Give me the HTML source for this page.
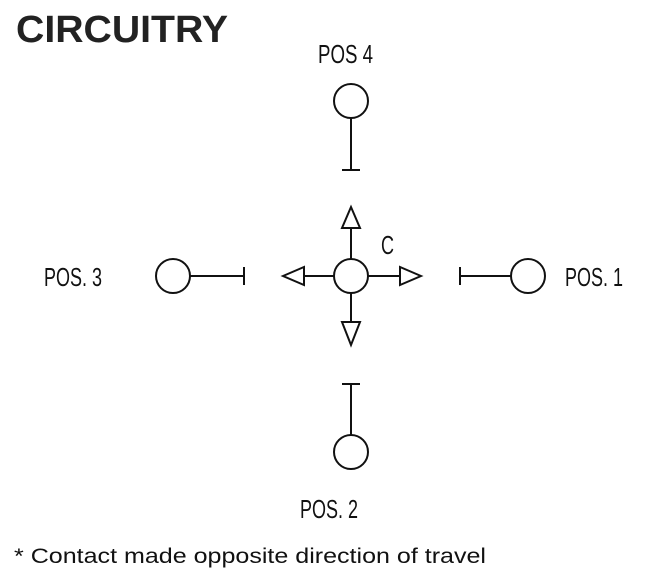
<!DOCTYPE html>
<html><head><meta charset="utf-8"><style>html,body{margin:0;padding:0;background:#fff;}svg{display:block}</style></head>
<body>
<svg width="659" height="578" viewBox="0 0 659 578" xmlns="http://www.w3.org/2000/svg" font-family="Liberation Sans, sans-serif">
<rect width="659" height="578" fill="#fff"/>
<text x="16" y="42" font-size="38" font-weight="bold" fill="#222" textLength="212" lengthAdjust="spacingAndGlyphs">CIRCUITRY</text>
<g fill="#111" font-size="26">
<text x="318" y="63" textLength="55" lengthAdjust="spacingAndGlyphs">POS 4</text>
<text x="44" y="286" textLength="58" lengthAdjust="spacingAndGlyphs">POS. 3</text>
<text x="565" y="286" textLength="58" lengthAdjust="spacingAndGlyphs">POS. 1</text>
<text x="300" y="518" textLength="58" lengthAdjust="spacingAndGlyphs">POS. 2</text>
<text x="381" y="254" textLength="13" lengthAdjust="spacingAndGlyphs">C</text>
</g>
<text x="14" y="563" font-size="21" fill="#111" textLength="472" lengthAdjust="spacingAndGlyphs">* Contact made opposite direction of travel</text>
<g stroke="#111" stroke-width="2" fill="#fff">
<circle cx="351" cy="276" r="17"/>
<line x1="351" y1="228" x2="351" y2="259"/>
<line x1="351" y1="293" x2="351" y2="322"/>
<line x1="304" y1="276" x2="334" y2="276"/>
<line x1="368" y1="276" x2="400" y2="276"/>
<polygon points="351,207 342,228 360,228"/>
<polygon points="351,345 342,322 360,322"/>
<polygon points="283,276 304,267 304,285"/>
<polygon points="421,276 400,267 400,285"/>
<circle cx="351" cy="101" r="17"/>
<line x1="351" y1="118" x2="351" y2="170"/>
<line x1="342" y1="170" x2="360" y2="170"/>
<circle cx="351" cy="452" r="17"/>
<line x1="351" y1="384" x2="351" y2="435"/>
<line x1="342" y1="384" x2="360" y2="384"/>
<circle cx="173" cy="276" r="17"/>
<line x1="190" y1="276" x2="244" y2="276"/>
<line x1="244" y1="267" x2="244" y2="285"/>
<circle cx="528" cy="276" r="17"/>
<line x1="460" y1="276" x2="511" y2="276"/>
<line x1="460" y1="267" x2="460" y2="285"/>
</g>
</svg>
</body></html>
